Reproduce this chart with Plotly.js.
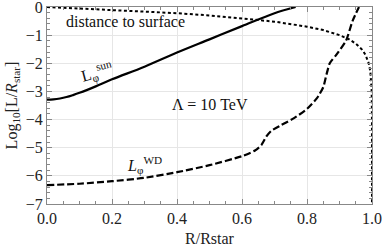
<!DOCTYPE html>
<html><head><meta charset="utf-8">
<script src="https://cdn.plot.ly/plotly-3.0.1.min.js"></script>
<style>html,body{margin:0;padding:0;background:#fff}#chart{width:382px;height:247px}</style>
</head><body><div id="chart"></div>
<script>
// L_phi^sun (solid)
var sunX = [0, 0.02, 0.04, 0.06, 0.08, 0.1, 0.15, 0.2, 0.3, 0.4, 0.5, 0.6, 0.7, 0.765];
var sunY = [-3.29, -3.28, -3.25, -3.2, -3.13, -3.05, -2.82, -2.57, -2.12, -1.62, -1.15, -0.68, -0.22, 0.0];
// distance to surface (dotted)
var distX = [0, 0.1, 0.2, 0.3, 0.4, 0.5, 0.6, 0.7, 0.8, 0.85, 0.9, 0.93, 0.95, 0.97, 0.98, 0.99, 0.995, 0.998, 0.999, 0.9999, 0.99999, 0.999999, 0.9999999];
var distY = [0, -0.05, -0.1, -0.15, -0.22, -0.3, -0.4, -0.52, -0.7, -0.82, -1.0, -1.15, -1.3, -1.52, -1.7, -2.0, -2.3, -2.7, -3.0, -4.0, -5.0, -6.0, -7.0];
// L_phi^WD (dashed)
var wdX = [0, 0.1, 0.2, 0.3, 0.4, 0.5, 0.6, 0.64, 0.66, 0.675, 0.69, 0.72, 0.76, 0.8, 0.83, 0.85, 0.86, 0.87, 0.89, 0.92, 0.94, 0.96];
var wdY = [-6.33, -6.28, -6.19, -6.07, -5.87, -5.62, -5.3, -5.1, -4.9, -4.6, -4.4, -4.2, -3.95, -3.62, -3.25, -2.85, -2.4, -2.0, -1.7, -1.2, -0.5, 0.0];
var xTicks = [0, 0.2, 0.4, 0.6, 0.8, 1.0];
var xTickText = ['0.0', '0.2', '0.4', '0.6', '0.8', '1.0'];
var yTicks = [0, -1, -2, -3, -4, -5, -6, -7];
var yTickText = ['0', '\u22121', '\u22122', '\u22123', '\u22124', '\u22125', '\u22126', '\u22127'];

var font = 'Liberation Serif';
var traces = [
  {x: distX, y: distY, mode: 'lines', line: {color: '#000', width: 2, dash: '3px,2.5px'}, hoverinfo: 'skip'},
  {x: sunX, y: sunY, mode: 'lines', line: {color: '#000', width: 2.2, shape: 'spline'}, hoverinfo: 'skip'},
  {x: wdX, y: wdY, mode: 'lines', line: {color: '#000', width: 2.2, dash: '7px,3px', shape: 'spline', smoothing: 0.6}, hoverinfo: 'skip'}
];
var axisCommon = {
  showline: true, linecolor: '#888', linewidth: 1, mirror: 'ticks',
  ticks: 'inside', ticklen: 5, tickcolor: '#888', tickwidth: 1,
  showgrid: true, gridcolor: '#e6e6e6', gridwidth: 1, zeroline: false,
  ticklabeloverflow: 'allow',
  tickfont: {family: font, size: 16, color: '#222'}
};
var layout = {
  width: 382, height: 247,
  margin: {l: 47, r: 10, t: 7, b: 43},
  paper_bgcolor: '#fff', plot_bgcolor: '#fff',
  showlegend: false,
  font: {family: font, size: 16, color: '#222'},
  xaxis: Object.assign({}, axisCommon, {
    range: [0, 1], tickvals: xTicks, ticktext: xTickText,
    minor: {dtick: 0.05, ticks: 'inside', ticklen: 3, tickcolor: '#888', showgrid: false},
    title: {text: 'R/Rstar', font: {family: font, size: 16, color: '#222'}, standoff: 6}
  }),
  yaxis: Object.assign({}, axisCommon, {
    range: [-7, 0], tickvals: yTicks, ticktext: yTickText,
    minor: {dtick: 0.2, ticks: 'inside', ticklen: 3, tickcolor: '#888', showgrid: false},
    title: {text: 'Log<sub>10</sub>[L/<i>R</i><sub>star</sub>]', font: {family: font, size: 16, color: '#222'}, standoff: 4}
  }),
  annotations: [
    {x: 0.241, y: -0.51, xref: 'x', yref: 'y', text: 'distance to surface', showarrow: false, font: {family: font, size: 16, color: '#111'}},
    {x: 0.5, y: -3.46, xref: 'x', yref: 'y', text: '\u039B = 10 TeV', showarrow: false, font: {family: font, size: 16, color: '#111'}},
    {x: 0.155, y: -2.3, xref: 'x', yref: 'y', text: 'L<sub>\u03C6</sub><sup>sun</sup>', textangle: -15, showarrow: false, font: {family: font, size: 16, color: '#111'}},
    {x: 0.3, y: -5.6, xref: 'x', yref: 'y', text: '<i>L</i><sub>\u03C6</sub><sup>WD</sup>', showarrow: false, font: {family: font, size: 16, color: '#111'}}
  ]
};
Plotly.newPlot('chart', traces, layout, {staticPlot: true, displayModeBar: false});
</script></body></html>
